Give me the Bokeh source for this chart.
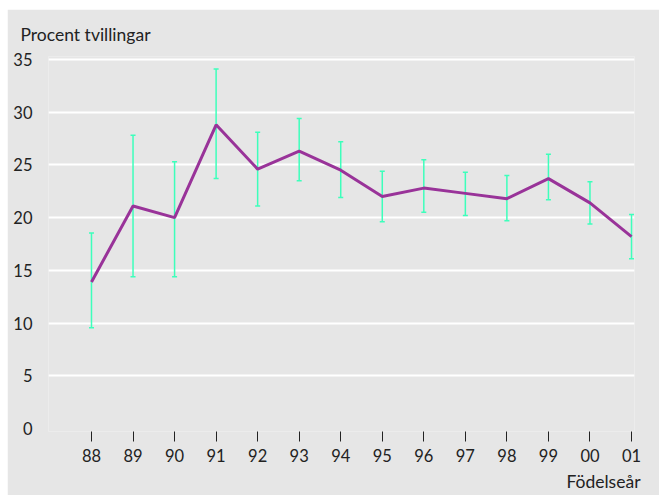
from bokeh.plotting import figure
from bokeh.models import FixedTicker, Title, Range1d, ColumnDataSource
from bokeh.embed import file_html
from bokeh.resources import INLINE

years = ["88", "89", "90", "91", "92", "93", "94", "95", "96", "97", "98", "99", "00", "01"]
twin_pct = [13.9, 21.1, 20.0, 28.8, 24.6, 26.3, 24.5, 22.0, 22.8, 22.3, 21.8, 23.7, 21.4, 18.2]
upper_ci = [18.55, 27.8, 25.3, 34.1, 28.1, 29.4, 27.2, 24.4, 25.5, 24.3, 24.0, 26.0, 23.4, 20.3]
lower_ci = [9.55, 14.4, 14.4, 23.7, 21.1, 23.5, 21.9, 19.6, 20.5, 20.2, 19.7, 21.7, 19.4, 16.1]
y_ticks = [0, 5, 10, 15, 20, 25, 30, 35]

FONT = "Lato"
BG = "#e6e6e6"
LINE_C = "#993399"
ERR_C = "#3dffbb"
TXT = "#222222"

xs = list(range(len(years)))
src = ColumnDataSource(dict(x=xs, y=twin_pct, hi=upper_ci, lo=lower_ci))

p = figure(width=652, height=486, output_backend="svg", toolbar_location=None,
           x_range=Range1d(-1.035, 13.072), y_range=Range1d(-0.283, 35.28),
           min_border_left=41, min_border_right=25, min_border_top=47, min_border_bottom=62)
p.margin = (9, 0, 0, 7)
p.background_fill_color = BG
p.border_fill_color = BG
p.outline_line_color = None

p.title.text = "Procent tvillingar"
p.title.align = "left"
p.title.offset = -28
p.title.text_font = FONT
p.title.text_font_size = "17.5px"
p.title.text_font_style = "normal"
p.title.text_color = TXT
p.title.standoff = 24

# grid
p.xgrid.visible = False
p.ygrid.ticker = FixedTicker(ticks=[t for t in y_ticks if t > 0])
p.ygrid.grid_line_color = "white"
p.ygrid.grid_line_width = 2

# y axis
p.yaxis.ticker = FixedTicker(ticks=y_ticks)
p.yaxis.axis_line_color = None
p.yaxis.major_tick_line_color = None
p.yaxis.minor_tick_line_color = None
p.yaxis.major_label_standoff = 10
p.yaxis.major_label_text_font = FONT
p.yaxis.major_label_text_font_size = "16.5px"
p.yaxis.major_label_text_color = TXT

# x axis
p.xaxis.ticker = FixedTicker(ticks=xs)
p.xaxis.major_label_overrides = {i: y for i, y in zip(xs, years)}
p.xaxis.axis_line_color = None
p.xaxis.major_tick_line_color = TXT
p.xaxis.major_tick_in = 0
p.xaxis.major_tick_out = 10
p.xaxis.minor_tick_line_color = None
p.xaxis.major_label_standoff = 7
p.xaxis.major_label_text_font = FONT
p.xaxis.major_label_text_font_size = "16.5px"
p.xaxis.major_label_text_color = TXT

xl = Title(text="Födelseår", align="right", offset=-6, text_font=FONT,
           text_font_size="17.5px", text_font_style="normal", text_color=TXT, standoff=8)
p.add_layout(xl, "below")

# error bars
p.segment(x0="x", y0="lo", x1="x", y1="hi", source=src, line_color=ERR_C, line_width=1.5)
p.scatter(x="x", y="hi", source=src, marker="dash", size=5, line_color=ERR_C, line_width=1.5)
p.scatter(x="x", y="lo", source=src, marker="dash", size=5, line_color=ERR_C, line_width=1.5)

# main line
p.line(x="x", y="y", source=src, line_color=LINE_C, line_width=3)

open("out.html", "w").write(file_html(p, INLINE))
